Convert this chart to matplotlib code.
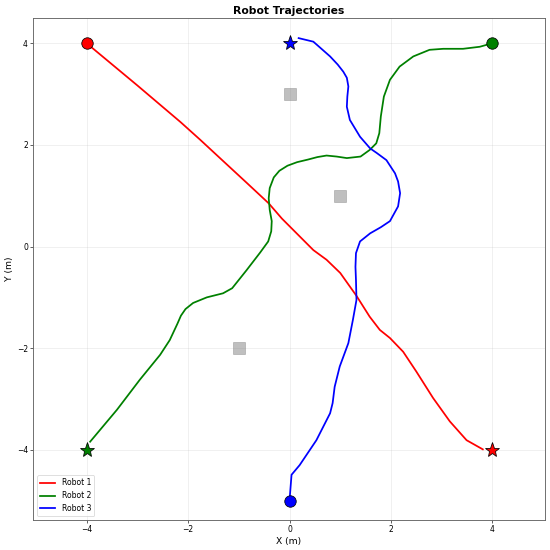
import numpy as np
import matplotlib
matplotlib.use('Agg')
import matplotlib.pyplot as plt

# robot 1: red, start (-4, 4) -> goal (4, -4)
r1_x = [-4.0, -3.0, -2.15, -1.76, -1.36, -0.84, -0.41, -0.15, 0.14, 0.47, 0.73,
        1.0, 1.32, 1.58, 1.78, 1.98, 2.24, 2.50, 2.83, 3.16, 3.49, 3.81]
r1_y = [4.0, 3.17, 2.45, 2.10, 1.73, 1.25, 0.85, 0.55, 0.26, -0.07, -0.26,
        -0.52, -0.97, -1.38, -1.64, -1.80, -2.07, -2.46, -2.98, -3.44, -3.81, -3.99]

# robot 2: green, start (4, 4) -> goal (-4, -4)
r2_x = [4.0, 3.75, 3.42, 3.03, 2.76, 2.44, 2.17, 1.98, 1.86, 1.80, 1.77, 1.71,
        1.58, 1.40, 1.13, 0.93, 0.73, 0.55, 0.36, 0.15, -0.04, -0.20, -0.31,
        -0.39, -0.41, -0.39, -0.35, -0.36, -0.42, -0.58, -0.85, -1.13, -1.31,
        -1.63, -1.90, -2.05, -2.14, -2.21, -2.36, -2.55, -2.95, -3.40, -3.93]
r2_y = [4.0, 3.93, 3.89, 3.89, 3.87, 3.74, 3.54, 3.28, 2.95, 2.56, 2.23, 2.03,
        1.90, 1.77, 1.74, 1.77, 1.79, 1.76, 1.71, 1.66, 1.59, 1.49, 1.36,
        1.15, 0.95, 0.72, 0.50, 0.30, 0.10, -0.12, -0.47, -0.82, -0.92,
        -1.00, -1.11, -1.23, -1.36, -1.52, -1.84, -2.13, -2.62, -3.21, -3.84]

# robot 3: blue, start (0, -5) -> goal (0, 4)
r3_x = [0.0, 0.04, 0.20, 0.53, 0.80, 0.85, 0.89, 0.99, 1.16, 1.25, 1.32, 1.31,
        1.30, 1.31, 1.39, 1.59, 1.80, 1.98, 2.14, 2.18, 2.14, 2.08, 1.91, 1.72,
        1.59, 1.39, 1.19, 1.13, 1.14, 1.16, 1.13, 1.06, 0.95, 0.80, 0.47, 0.18]
r3_y = [-5.0, -4.49, -4.30, -3.81, -3.28, -3.08, -2.76, -2.36, -1.90, -1.44,
        -1.05, -0.66, -0.40, -0.13, 0.10, 0.26, 0.38, 0.50, 0.79, 1.05, 1.28,
        1.44, 1.70, 1.84, 1.93, 2.16, 2.49, 2.75, 2.95, 3.15, 3.32, 3.44,
        3.58, 3.74, 4.03, 4.10]

starts = [(-4, 4), (4, 4), (0, -5)]
goals = [(4, -4), (-4, -4), (0, 4)]
colors = ['red', 'green', 'blue']
labels = ['Robot 1', 'Robot 2', 'Robot 3']

obs_x = [0, 1, -1]
obs_y = [3, 1, -2]

fig = plt.figure(figsize=(10, 10), dpi=55)
ax = fig.add_axes([33.3 / 550, 30 / 550, 511.4 / 550, 501.7 / 550])

paths = [(r1_x, r1_y), (r2_x, r2_y), (r3_x, r3_y)]
for (px, py), c, lab in zip(paths, colors, labels):
    ax.plot(px, py, color=c, linewidth=2.3, label=lab)

for (sx, sy), (gx, gy), c in zip(starts, goals, colors):
    ax.plot(sx, sy, 'o', color=c, markersize=15, markeredgecolor='black')
    ax.plot(gx, gy, '*', color=c, markersize=20, markeredgecolor='black')

ax.plot(obs_x, obs_y, 's', color='gray', alpha=0.5, markersize=15)

ax.set_xlim(-5.05, 5.03)
ax.set_ylim(-5.38, 4.49)
ax.set_xlabel('X (m)', fontsize=12)
ax.set_ylabel('Y (m)', fontsize=12)
ax.set_title('Robot Trajectories', fontsize=14, fontweight='bold')
ax.legend(loc='lower left')
ax.grid(True, alpha=0.3)
for sp in ax.spines.values():
    sp.set_color('0.4')
    sp.set_linewidth(1.2)

plt.savefig('out.png', dpi=55)
